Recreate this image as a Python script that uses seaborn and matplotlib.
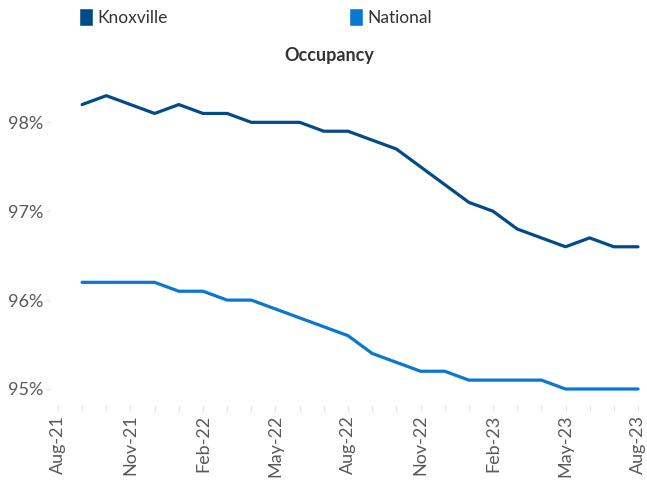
import numpy as np
import pandas as pd
import matplotlib
matplotlib.use("Agg")
import matplotlib.pyplot as plt
from matplotlib.patches import Patch
import seaborn as sns

# month axis, Aug-21 .. Aug-23 (no value for Aug-21)
months = ["Aug-21", "Sep-21", "Oct-21", "Nov-21", "Dec-21", "Jan-22", "Feb-22",
          "Mar-22", "Apr-22", "May-22", "Jun-22", "Jul-22", "Aug-22", "Sep-22",
          "Oct-22", "Nov-22", "Dec-22", "Jan-23", "Feb-23", "Mar-23", "Apr-23",
          "May-23", "Jun-23", "Jul-23", "Aug-23"]
knoxville = [np.nan, 98.2, 98.3, 98.2, 98.1, 98.2, 98.1, 98.1, 98.0, 98.0, 98.0,
             97.9, 97.9, 97.8, 97.7, 97.5, 97.3, 97.1, 97.0, 96.8, 96.7, 96.6,
             96.7, 96.6, 96.6]
national = [np.nan, 96.2, 96.2, 96.2, 96.2, 96.1, 96.1, 96.0, 96.0, 95.9, 95.8,
            95.7, 95.6, 95.4, 95.3, 95.2, 95.2, 95.1, 95.1, 95.1, 95.1, 95.0,
            95.0, 95.0, 95.0]
label_months = ["Aug-21", "Nov-21", "Feb-22", "May-22", "Aug-22", "Nov-22",
                "Feb-23", "May-23", "Aug-23"]
yticks = [95, 96, 97, 98]

colors = {"Knoxville": "#034B88", "National": "#0A77D0"}

df = pd.DataFrame({"month": months, "Knoxville": knoxville, "National": national})
df["pos"] = range(len(months))
long = df.melt(id_vars=["month", "pos"], var_name="series", value_name="occ").dropna()

sns.set_style("white")
plt.rcParams["font.family"] = ["Lato", "DejaVu Sans"]
grey = "#595959"

fig = plt.figure(figsize=(6.47, 4.8), dpi=100)
ax = fig.add_axes([50 / 647, 1 - 405 / 480, 596 / 647, (405 - 69) / 480])

sns.lineplot(data=long, x="pos", y="occ", hue="series", palette=colors,
             linewidth=2.3, legend=False, ax=ax)

ax.set_xlim(-0.33, len(months) - 1 + 0.33)
ax.set_ylim(94.82, 98.6)
ax.set_xticks(range(len(months)))
ax.set_xticklabels([m if m in label_months else "" for m in months],
                   rotation=90, fontsize=13, color=grey)
ax.set_yticks(yticks)
ax.set_yticklabels([f"{v}%" for v in yticks], fontsize=13, color=grey)
ax.tick_params(axis="x", length=4, color="#e3e3e3", pad=3, bottom=True)
ax.tick_params(axis="y", length=3, color="#e3e3e3", pad=2, left=True)
ax.set_xlabel("")
ax.set_ylabel("")
for s in ax.spines.values():
    s.set_visible(False)

fig.text(329 / 647, 1 - 55 / 480, "Occupancy", ha="center", va="center",
         fontsize=13, fontweight="bold", color="#333333")

handles = [Patch(facecolor=colors[k], label=k) for k in ["Knoxville", "National"]]
leg = fig.legend(handles=handles, loc="center left", ncol=2,
                 bbox_to_anchor=(63 / 647, 1 - 17 / 480), frameon=False,
                 fontsize=12.5, handlelength=0.8, handleheight=1.2,
                 handletextpad=0.3, columnspacing=10.4)
for t in leg.get_texts():
    t.set_color("#333333")

fig.savefig("out.png", dpi=100)
